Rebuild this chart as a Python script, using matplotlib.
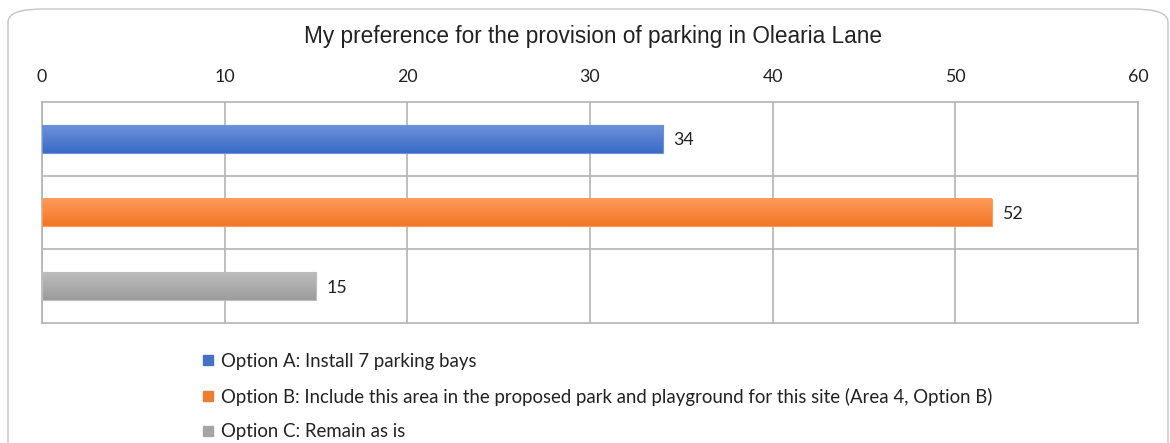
import matplotlib.pyplot as plt
import numpy as np
from matplotlib.lines import Line2D
from matplotlib.patches import FancyBboxPatch
from matplotlib.colors import LinearSegmentedColormap

# survey counts
options = ['Option A: Install 7 parking bays',
           'Option B: Include this area in the proposed park and playground for this site (Area 4, Option B)',
           'Option C: Remain as is']
votes = [34, 52, 15]
colors = ['#4472c4', '#ed7d31', '#a5a5a5']
# light top / dark bottom of each bar's gradient
grad_top = ['#6c91da', '#ff9a5a', '#bdbdbd']
grad_bot = ['#3a6bc6', '#f27624', '#9c9c9c']
ticks = [0, 10, 20, 30, 40, 50, 60]

plt.rcParams['font.family'] = ['Lato', 'DejaVu Sans']

fig = plt.figure(figsize=(11.7, 4.43), dpi=100)

# rounded chart frame, kept behind the axes
frame = FancyBboxPatch((8 / 1170, -0.1), 1160 / 1170, 1 - 9 / 443 + 0.1,
                       boxstyle='round,pad=0,rounding_size=0.03',
                       transform=fig.transFigure, facecolor='white',
                       edgecolor='#c4c4c4', linewidth=1.0,
                       mutation_aspect=443 / 1170 * 2.6, zorder=-10)
fig.patches.append(frame)

ax = fig.add_axes([42 / 1170, 1 - 323 / 443, 1096 / 1170, 221 / 443])
ax.set_facecolor('none')
ypos = np.arange(len(options))
bars = ax.barh(ypos, votes, height=0.38, color=colors, zorder=3)

# vertical gradient on each bar
for bar, top, bot in zip(bars, grad_top, grad_bot):
    x0, y0 = bar.get_x(), bar.get_y()
    w, h = bar.get_width(), bar.get_height()
    cmap = LinearSegmentedColormap.from_list('g', [bot, top])
    ax.imshow(np.linspace(0, 1, 64).reshape(-1, 1), cmap=cmap, aspect='auto',
              extent=(x0, x0 + w, y0 + h, y0), origin='lower', zorder=4)
    ax.add_patch(plt.Rectangle((x0, y0), w, h, fill=False, edgecolor=top,
                               linewidth=0.8, zorder=5))
    ax.text(bar.get_width() + 0.55, bar.get_y() + h / 2 + 0.02, str(bar.get_width()),
            va='center', ha='left', fontsize=12.8, color='#222222', zorder=6)

ax.set_xlim(0, 60)
ax.set_ylim(2.5, -0.5)
ax.set_aspect('auto')
ax.xaxis.tick_top()
ax.set_xticks(ticks)
ax.set_xticklabels([str(t) for t in ticks])
ax.set_yticks([0.5, 1.5])
ax.set_yticklabels([])
ax.tick_params(axis='both', length=0, labelsize=12.8, colors='#222222', pad=12.5)
ax.grid(True, color='#b3b3b3', linewidth=1.2, zorder=0)
for s in ax.spines.values():
    s.set_color('#b3b3b3')
    s.set_linewidth(1.2)

fig.text(0.507, 1 - 37 / 443, 'My preference for the provision of parking in Olearia Lane',
         ha='center', va='center', fontsize=16.3, color='#222222',
         family=['Liberation Sans', 'DejaVu Sans'])

handles = [Line2D([], [], marker='s', linestyle='none', markersize=7,
                  markerfacecolor=c, markeredgecolor=c) for c in colors]
fig.legend(handles, options, loc='upper left', bbox_to_anchor=(201 / 1170, 1 - 353 / 443),
           frameon=False, fontsize=13.4, handlelength=0.8, handletextpad=0.3,
           labelspacing=0.95, borderpad=0, borderaxespad=0, labelcolor='#222222')

fig.savefig('out.png', dpi=100)
